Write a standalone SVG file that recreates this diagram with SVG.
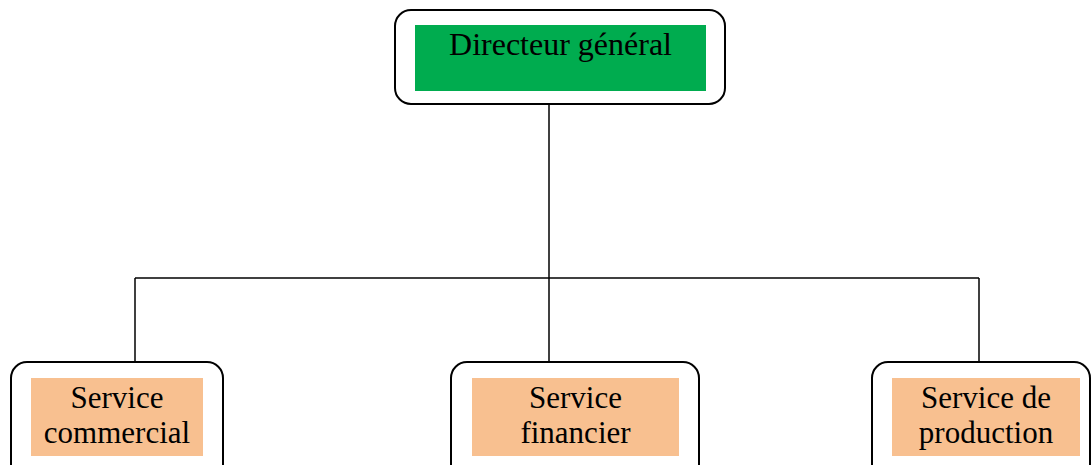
<svg xmlns="http://www.w3.org/2000/svg" width="1092" height="465" viewBox="0 0 1092 465">
<style>
.outer{fill:#fff;stroke:#000;stroke-width:2}
.green{fill:#00AC4F}
.orange{fill:#F8C090}
.t{font-family:"Liberation Serif","Times New Roman",serif;fill:#000;text-anchor:middle}
.b{font-size:31px}
.conn{stroke:#000;stroke-width:1.5;fill:none}
</style>
<rect width="1092" height="465" fill="#fff"/>
<g id="connectors">
<path class="conn" d="M549,104 V362"/>
<path class="conn" d="M135,278 H979"/>
<path class="conn" d="M135,278 V362"/>
<path class="conn" d="M979,278 V362"/>
</g>
<g id="directeur">
<rect class="outer" x="395" y="10" width="330" height="94" rx="16"/>
<rect class="green" x="415" y="25" width="291" height="66"/>
<text class="t" x="560.5" y="55" font-size="32">Directeur général</text>
</g>
<g id="commercial">
<rect class="outer" x="11" y="362" width="212" height="120" rx="16"/>
<rect class="orange" x="31" y="378" width="172" height="78"/>
<text class="t b" x="117" y="408">Service</text>
<text class="t b" x="117" y="443">commercial</text>
</g>
<g id="financier">
<rect class="outer" x="451" y="362" width="248" height="120" rx="16"/>
<rect class="orange" x="472" y="378" width="207" height="78"/>
<text class="t b" x="575.5" y="408">Service</text>
<text class="t b" x="575.5" y="443">financier</text>
</g>
<g id="production">
<rect class="outer" x="872" y="362" width="218" height="120" rx="16"/>
<rect class="orange" x="892" y="378" width="188" height="78"/>
<text class="t b" x="986" y="408">Service de</text>
<text class="t b" x="986" y="443">production</text>
</g>
</svg>
